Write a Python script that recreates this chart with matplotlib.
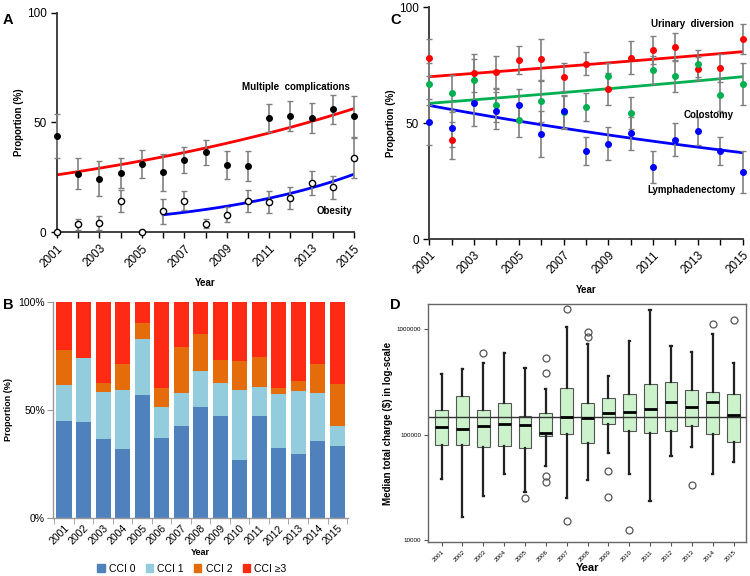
import numpy as np
import matplotlib
matplotlib.use('Agg')
import matplotlib.pyplot as plt
from matplotlib.patches import Patch
from matplotlib.ticker import NullLocator, FixedLocator

plt.rcParams['font.family'] = ['Liberation Sans', 'DejaVu Sans']

years = list(range(2001, 2016))

# panel A: complications and obesity (%)
multi_comp = [44, 26.6, 24.3, 27.0, 31.1, 27.3, 32.9, 36.4, 30.5, 30.2, 52.0, 53.0, 52.0, 56.0, 52.7]
multi_comp_err = [10, 7, 8, 6.7, 6.4, 8.5, 6, 5.6, 6.5, 6.7, 6.4, 6.9, 7, 6.6, 9.4]
obesity = [0, 3.6, 4.2, 14.1, 0, 9.4, 14.4, 3.8, 7.9, 14.1, 13.8, 15.5, 22.2, 20.5, 33.8]
obesity_err = [0, 2.5, 3.3, 5, 0, 5.7, 4.5, 2, 3.5, 4.9, 4.9, 4.9, 5.5, 5.2, 9.2]
# fitted trend (start year, start value, end value)
multi_trend = (2001, 26.1, 56.3)
obesity_trend = (2006, 7.9, 26.4)

# panel B: CCI distribution (%)
cci0 = [44.9, 44.4, 36.7, 31.9, 56.8, 36.9, 42.7, 51.5, 47.2, 26.9, 47.2, 32.4, 29.5, 35.5, 33.3]
cci1 = [16.8, 29.8, 21.6, 27.5, 25.9, 14.2, 14.9, 16.7, 15.1, 32.2, 13.3, 25.0, 29.0, 22.2, 9.4]
cci2 = [15.8, 0.0, 4.0, 11.9, 7.6, 8.9, 21.6, 16.8, 10.7, 13.4, 13.9, 2.6, 4.9, 13.4, 19.2]
cci3 = [22.5, 25.8, 37.7, 28.7, 9.7, 40.0, 20.8, 15.0, 27.0, 27.5, 25.6, 40.0, 36.6, 28.9, 38.1]
cci_labels = ['CCI 0', 'CCI 1', 'CCI 2', 'CCI \u22653']

# panel C: procedures (%)
urinary = [78.3, 42.7, 71.7, 72.1, 77.3, 77.6, 70.1, 75.8, 64.9, 78.4, 81.7, 83.0, 73.5, 74.0, 86.3]
urinary_err = [8, 8, 8, 7, 6, 9, 6, 5, 7, 7, 6, 6, 5, 6, 6.5]
colostomy = [66.9, 63.0, 68.8, 57.7, 51.2, 59.4, 54.7, 57.1, 70.2, 54.5, 73.1, 70.5, 75.8, 62.4, 67.1]
colostomy_err = [9, 8, 9, 7, 7, 9, 7, 6, 6, 7, 6, 7, 6, 7, 9]
lymph = [50.4, 47.9, 58.8, 55.5, 57.7, 45.5, 55.1, 38.0, 41.2, 45.6, 31.2, 42.9, 46.8, 38.1, 28.9]
lymph_err = [10, 8, 10, 8, 7, 10, 7, 6, 7, 7, 7, 7, 6, 6, 9]
urinary_trend = (2001, 70.1, 80.9)
colostomy_trend = (2001, 58.6, 70.1)
lymph_trend = (2001, 57.7, 37.3)

# panel D: total charge box stats ($)
q_low = [38200, 16700, 26200, 42800, 28400, 51000, 25300, 37600, 67000, 42500, 23800, 63400, 76500, 42800, 55200]
q1 = [79300, 79900, 76500, 78700, 74800, 98000, 101000, 83400, 125000, 109000, 104000, 109000, 121000, 101000, 85300]
med = [118000, 112000, 120000, 126000, 122000, 104000, 148000, 143000, 160000, 165000, 173000, 205000, 184000, 205000, 154000]
q3 = [170000, 232000, 170000, 198000, 151000, 161000, 277000, 200000, 222000, 242000, 303000, 312000, 264000, 253000, 242000]
q_high = [376000, 416000, 477000, 594000, 428000, 268000, 1040000, 716000, 358000, 771000, 1500000, 681000, 607000, 885000, 477000]
outliers = [[], [], [589000], [], [25100], [532000, 384000, 40200, 35500], [1550000, 15200],
            [923000, 841000], [45700, 25500], [12500], [], [], [33300], [1100000], [1200000]]
overall_median = 146000


def exp_trend(trend, x_end=2015):
    # exponential curve through the fitted start and end values
    x0, v0, v1 = trend
    xs = np.linspace(x0, x_end, 100)
    k = np.log(v1 / v0) / (x_end - x0)
    return xs, v0 * np.exp(k * (xs - x0))


def line_axes(ax):
    for pos in ['top', 'right']:
        ax.spines[pos].set_visible(False)
    for pos in ['left', 'bottom']:
        ax.spines[pos].set_linewidth(1.3)
        ax.spines[pos].set_color('#333333')
    ax.set_xlim(2001, 2015)
    ax.set_ylim(0, 100)
    ax.set_yticks([0, 50, 100])
    ax.set_xticks(years)
    ax.set_xticklabels([str(y) if y % 2 == 1 else '' for y in years], rotation=45,
                       ha='right', rotation_mode='anchor', fontsize=8.5)
    ax.tick_params(axis='both', direction='out', length=4, width=1, labelsize=8.5)
    ax.set_xlabel('Year', fontsize=7, fontweight='bold', labelpad=6)
    ax.set_ylabel('Proportion (%)', fontsize=7, fontweight='bold', labelpad=2)


def panel_a(ax):
    line_axes(ax)
    ekw = dict(ecolor='#808080', elinewidth=1.2, capsize=2, capthick=1, ls='none', clip_on=False)
    ax.errorbar(years, multi_comp, yerr=multi_comp_err, fmt='o', ms=4, mfc='black', mec='black', zorder=3, **ekw)
    ax.errorbar(years, obesity, yerr=obesity_err, fmt='o', ms=4.5, mfc='white', mec='black', zorder=3, **ekw)
    xs, ys = exp_trend(multi_trend)
    ax.plot(xs, ys, color='#ff0000', lw=2, zorder=2)
    xs, ys = exp_trend(obesity_trend)
    ax.plot(xs, ys, color='#0000ff', lw=2, zorder=2)
    ax.text(2014.8, 66, 'Multiple  complications', ha='right', va='center', fontsize=7, fontweight='bold')
    ax.text(2014.9, 9.6, 'Obesity', ha='right', va='center', fontsize=7, fontweight='bold')


def panel_c(ax):
    line_axes(ax)
    ekw = dict(ecolor='#808080', elinewidth=1.2, capsize=2, capthick=1, ls='none', fmt='o', ms=4, clip_on=False)
    ax.errorbar(years, urinary, yerr=urinary_err, color='#ff0000', zorder=3, **ekw)
    ax.errorbar(years, colostomy, yerr=colostomy_err, color='#00b050', zorder=3, **ekw)
    ax.errorbar(years, lymph, yerr=lymph_err, color='#0000ff', zorder=3, **ekw)
    for trend, col in [(urinary_trend, '#ff0000'), (colostomy_trend, '#00b050'), (lymph_trend, '#0000ff')]:
        xs, ys = exp_trend(trend)
        ax.plot(xs, ys, color=col, lw=2, zorder=2)
    ax.text(2014.6, 92.8, 'Urinary  diversion', ha='right', va='center', fontsize=7, fontweight='bold')
    ax.text(2014.6, 53.5, 'Colostomy', ha='right', va='center', fontsize=7, fontweight='bold')
    ax.text(2014.7, 21.1, 'Lymphadenectomy', ha='right', va='center', fontsize=7, fontweight='bold')


def panel_b(ax):
    colors = ['#4f81bd', '#93cddd', '#e46c0a', '#ff2a14']
    x = np.arange(len(years))
    bottom = np.zeros(len(years))
    for vals, col in zip([cci0, cci1, cci2, cci3], colors):
        ax.bar(x, vals, width=0.77, bottom=bottom, color=col, linewidth=0)
        bottom += np.array(vals)
    for pos in ['top', 'right']:
        ax.spines[pos].set_visible(False)
    for pos in ['left', 'bottom']:
        ax.spines[pos].set_color('#999999')
        ax.spines[pos].set_linewidth(1)
    ax.set_xlim(-0.55, 14.55)
    ax.set_ylim(0, 100)
    ax.set_yticks([0, 50, 100])
    ax.set_yticklabels(['0%', '50%', '100%'])
    ax.set_xticks(x)
    ax.set_xticklabels([str(y) for y in years], rotation=45, ha='right', rotation_mode='anchor')
    ax.xaxis.set_minor_locator(FixedLocator(np.arange(-0.5, 15, 1)))
    ax.tick_params(axis='x', which='major', length=0, labelsize=7.5, pad=4)
    ax.tick_params(axis='x', which='minor', length=4, color='#999999')
    ax.tick_params(axis='y', length=4, color='#999999', labelsize=7.5, pad=2)
    ax.set_xlabel('Year', fontsize=6.5, fontweight='bold', labelpad=1)
    ax.set_ylabel('Proportion (%)', fontsize=6.5, fontweight='bold', labelpad=4)
    handles = [Patch(color=c) for c in colors]
    ax.legend(handles, cci_labels, loc='center', bbox_to_anchor=(0.47, -0.235), ncol=4,
              frameon=False, fontsize=7.5, handlelength=0.7, handleheight=0.7,
              handletextpad=0.4, columnspacing=1.0, borderpad=0)


def panel_d(ax):
    stats = []
    for i in range(len(years)):
        stats.append(dict(whislo=q_low[i], q1=q1[i], med=med[i], q3=q3[i], whishi=q_high[i],
                          fliers=outliers[i]))
    ax.bxp(stats, positions=range(1, 16), widths=0.62, patch_artist=True,
           boxprops=dict(facecolor='#ccf2cc', edgecolor='#555555', linewidth=0.8),
           medianprops=dict(color='black', linewidth=2),
           whiskerprops=dict(color='#222222', linewidth=1.6),
           capprops=dict(color='#222222', linewidth=1.6),
           capwidths=0.06,
           flierprops=dict(marker='o', mfc='none', mec='#555555', ms=5, mew=0.9))
    ax.axhline(overall_median, color='#333333', lw=1)
    ax.set_yscale('log')
    ax.set_ylim(9600, 1.71e6)
    ax.set_xlim(0.36, 15.61)
    ax.set_yticks([10000, 100000, 1000000])
    ax.set_yticklabels(['10000', '100000', '1000000'])
    ax.yaxis.set_minor_locator(NullLocator())
    ax.set_xticks(range(1, 16))
    ax.set_xticklabels([str(y) for y in years], rotation=45, ha='right', rotation_mode='anchor')
    ax.tick_params(axis='both', length=3, labelsize=4.5, color='#555555', pad=2)
    for sp in ax.spines.values():
        sp.set_color('#666666')
        sp.set_linewidth(1)
    ax.set_xlabel('Year', fontsize=8, fontweight='bold', labelpad=0)
    ax.set_ylabel('Median total charge ($) in log-scale', fontsize=7, fontweight='bold', labelpad=3)


if __name__ == '__main__':
    fig = plt.figure(figsize=(7.5, 5.76), dpi=100)
    ax_a = fig.add_axes([0.076, 0.597, 0.396, 0.381])
    ax_c = fig.add_axes([0.5724, 0.585, 0.4176, 0.402])
    ax_b = fig.add_axes([0.071, 0.101, 0.393, 0.375])
    ax_d = fig.add_axes([0.571, 0.0585, 0.424, 0.4135])
    panel_a(ax_a)
    panel_c(ax_c)
    panel_b(ax_b)
    panel_d(ax_d)
    # panel letters
    fig.text(0.004, 0.978, 'A', fontsize=10.5, fontweight='bold', va='top')
    fig.text(0.52, 0.978, 'C', fontsize=10.5, fontweight='bold', va='top')
    fig.text(0.004, 0.483, 'B', fontsize=10.5, fontweight='bold', va='top')
    fig.text(0.52, 0.483, 'D', fontsize=10.5, fontweight='bold', va='top')
    fig.savefig('out.png', dpi=100)
